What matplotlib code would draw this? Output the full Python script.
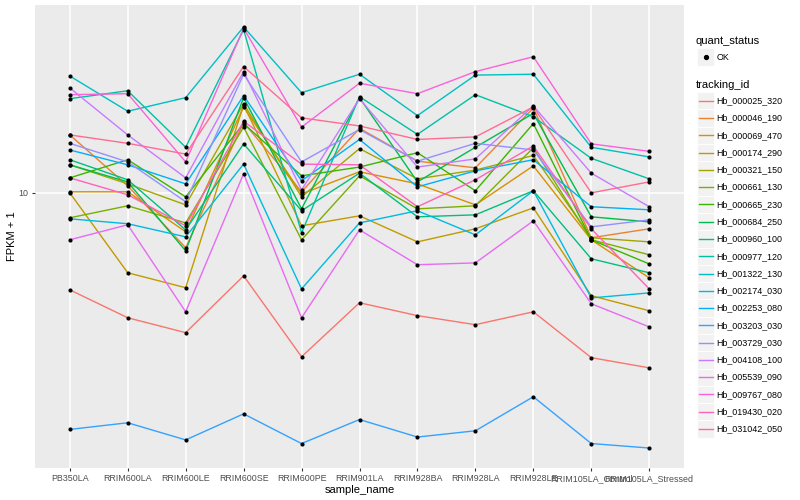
import matplotlib
matplotlib.use('Agg')
import matplotlib.pyplot as plt
from matplotlib.patches import Rectangle
from matplotlib.lines import Line2D
from matplotlib.ticker import NullLocator, FixedLocator

samples = ["PB350LA", "RRIM600LA", "RRIM600LE", "RRIM600SE", "RRIM600PE",
           "RRIM901LA", "RRIM928BA", "RRIM928LA", "RRIM928LE",
           "RRIM105LA_Control", "RRIM105LA_Stressed"]

tracking_ids = ["Hb_000025_320", "Hb_000046_190", "Hb_000069_470", "Hb_000174_290",
                "Hb_000321_150", "Hb_000661_130", "Hb_000665_230", "Hb_000684_250",
                "Hb_000960_100", "Hb_000977_120", "Hb_001322_130", "Hb_002174_030",
                "Hb_002253_080", "Hb_003203_030", "Hb_003729_030", "Hb_004108_100",
                "Hb_005539_090", "Hb_009767_080", "Hb_019430_020", "Hb_031042_050"]

colors = ["#F8766D", "#EA8331", "#D89000", "#C09B00", "#A3A500", "#7CAE00", "#39B600",
          "#00BB4E", "#00BF7D", "#00C1A3", "#00BFC4", "#00BAE0", "#00B0F6", "#35A2FF",
          "#9590FF", "#C77CFF", "#E76BF3", "#FA62DB", "#FF62BC", "#FF6C91"]

# FPKM + 1 per sample
hb_000025_320 = [5.72, 4.87, 4.47, 6.20, 3.89, 5.31, 4.93, 4.68, 5.04, 3.87, 3.65]
hb_000046_190 = [13.96, 10.41, 7.29, 15.0, 10.06, 14.5, 12.0, 11.55, 16.3, 7.72, 8.13]
hb_000069_470 = [10.06, 10.06, 7.99, 16.4, 9.94, 11.29, 10.53, 9.33, 11.68, 7.63, 6.13]
hb_000174_290 = [10.0, 6.31, 5.79, 16.6, 8.27, 8.76, 7.54, 8.13, 9.17, 5.53, 5.07]
hb_000321_150 = [11.75, 10.53, 9.33, 16.7, 9.77, 12.9, 10.84, 11.4, 12.4, 7.72, 7.54]
hb_000661_130 = [8.66, 9.28, 8.41, 14.6, 7.63, 11.03, 9.12, 9.28, 12.96, 7.63, 7.00]
hb_000665_230 = [10.9, 12.1, 9.77, 14.9, 11.03, 11.6, 12.6, 10.12, 14.9, 7.63, 6.64]
hb_000684_250 = [11.75, 10.65, 7.16, 17.3, 9.12, 17.3, 10.65, 13.0, 15.8, 8.71, 8.46]
hb_000960_100 = [12.1, 10.78, 8.08, 13.26, 9.02, 11.2, 8.71, 8.81, 10.12, 6.84, 6.31]
hb_000977_120 = [17.2, 18.0, 13.0, 25.6, 7.94, 17.4, 14.0, 17.6, 15.5, 12.2, 10.84]
hb_001322_130 = [19.6, 16.0, 17.3, 26.0, 17.8, 19.8, 15.6, 19.7, 19.8, 13.0, 12.3]
hb_002174_030 = [8.61, 8.37, 7.76, 11.8, 5.75, 8.41, 9.02, 7.85, 10.12, 5.46, 5.62]
hb_002253_080 = [12.8, 11.75, 10.53, 17.5, 10.72, 13.6, 10.35, 11.35, 12.1, 9.23, 9.07]
hb_003203_030 = [2.56, 2.66, 2.41, 2.80, 2.36, 2.71, 2.45, 2.54, 3.09, 2.36, 2.30]
hb_003729_030 = [13.3, 11.95, 9.50, 19.8, 11.95, 14.4, 12.0, 13.3, 12.8, 8.22, 8.56]
hb_004108_100 = [18.3, 13.96, 10.9, 20.1, 10.17, 17.2, 11.6, 12.16, 16.5, 11.2, 9.23]
hb_005539_090 = [7.63, 8.32, 5.04, 11.16, 4.87, 8.08, 6.61, 6.68, 8.51, 5.28, 4.62]
hb_009767_080 = [17.6, 17.7, 11.95, 25.8, 14.6, 18.8, 17.7, 20.1, 21.9, 13.26, 12.7]
hb_019430_020 = [10.9, 9.89, 8.27, 15.1, 11.8, 11.75, 9.23, 10.78, 13.1, 8.13, 5.75]
hb_031042_050 = [13.96, 13.3, 12.5, 20.7, 15.4, 14.7, 13.6, 13.8, 16.4, 10.0, 10.65]

series = [hb_000025_320, hb_000046_190, hb_000069_470, hb_000174_290, hb_000321_150,
          hb_000661_130, hb_000665_230, hb_000684_250, hb_000960_100, hb_000977_120,
          hb_001322_130, hb_002174_030, hb_002253_080, hb_003203_030, hb_003729_030,
          hb_004108_100, hb_005539_090, hb_009767_080, hb_019430_020, hb_031042_050]

y_ticks = [10]
y_tick_labels = ["10"]
status_labels = ["OK"]

plt.rcParams['font.family'] = ['Liberation Sans', 'DejaVu Sans']

W, H = 800, 500
fig = plt.figure(figsize=(8, 5), dpi=100)
fig.patch.set_facecolor('white')
ax = fig.add_axes([35 / W, 1 - 468 / H, (684 - 35) / W, (468 - 5) / H])
ax.set_facecolor('#EBEBEB')

xs = list(range(len(samples)))
for vals, c in zip(series, colors):
    ax.plot(xs, vals, color=c, lw=1.0, zorder=2, solid_capstyle='butt')
for vals in series:
    ax.scatter(xs, vals, s=9, c='black', zorder=3, linewidths=0)

ax.set_yscale('log')
ax.set_ylim(2.05, 29.5)
ax.set_xlim(-0.6, len(samples) - 1 + 0.6)
ax.yaxis.set_major_locator(FixedLocator(y_ticks))
ax.yaxis.set_minor_locator(NullLocator())
ax.set_yticklabels(y_tick_labels)
ax.set_xticks(xs)
ax.set_xticklabels(samples)
ax.grid(True, which='major', color='white', lw=1.1, zorder=0)
ax.set_axisbelow(True)
for s in ax.spines.values():
    s.set_visible(False)
ax.tick_params(axis='both', length=2.5, width=0.8, color='#333333',
               labelcolor='#4D4D4D', labelsize=6.4, pad=2)
ax.set_xlabel('sample_name', fontsize=8, color='black', labelpad=1.5)
ax.set_ylabel('FPKM + 1', fontsize=8, color='black', labelpad=1)

# legends (ggplot style)
def fx(px):
    return px / W

def fy(py):
    return 1 - py / H

fig.text(fx(696), fy(41), 'quant_status', fontsize=8, va='center', ha='left')
fig.add_artist(Rectangle((fx(697), fy(65.5)), 17 / W, 17 / H, transform=fig.transFigure,
                         facecolor='#F2F2F2', edgecolor='white', lw=0.6))
fig.add_artist(Line2D([fx(705.5)], [fy(57)], marker='o', markersize=2.8, color='black',
                      transform=fig.transFigure, lw=0))
fig.text(fx(716.5), fy(57), status_labels[0], fontsize=6.4, va='center', ha='left')

fig.text(fx(696), fy(84.5), 'tracking_id', fontsize=8, va='center', ha='left')
step = 17.28
for i, (tid, c) in enumerate(zip(tracking_ids, colors)):
    yc = 100.7 + i * step
    fig.add_artist(Rectangle((fx(697), fy(yc + step / 2)), 17 / W, step / H,
                             transform=fig.transFigure, facecolor='#F2F2F2',
                             edgecolor='white', lw=0.6))
    fig.add_artist(Line2D([fx(698.5), fx(712.5)], [fy(yc), fy(yc)], color=c, lw=1.0,
                          transform=fig.transFigure))
    fig.text(fx(716.5), fy(yc), tid, fontsize=6.4, va='center', ha='left')

fig.savefig('out.png', dpi=100)
